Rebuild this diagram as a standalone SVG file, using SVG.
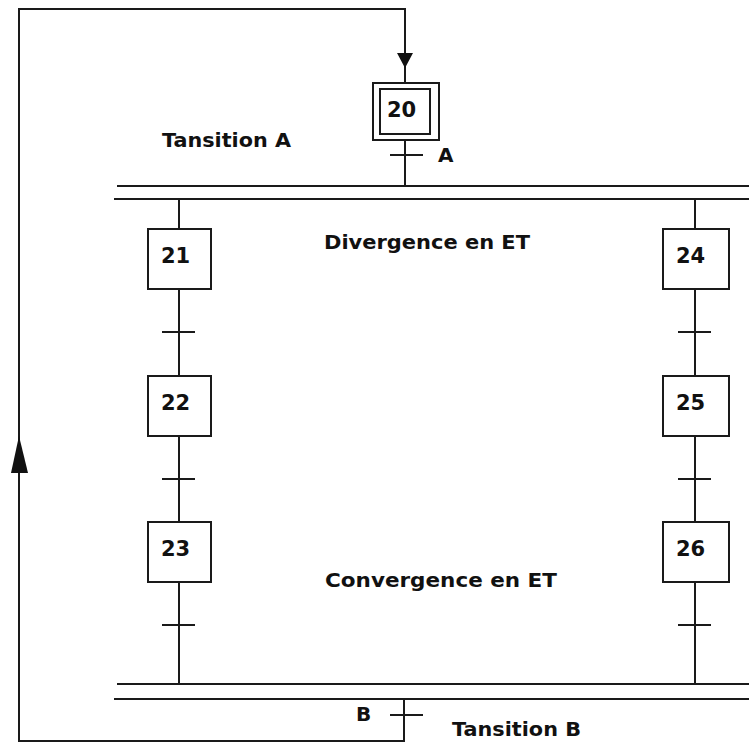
<svg xmlns="http://www.w3.org/2000/svg" width="749" height="742" viewBox="0 0 749 742">
<style>
.ln{stroke:#1a1a1a;stroke-width:2;fill:none}
.box{stroke:#1a1a1a;stroke-width:2;fill:#fff}
.t{font-family:"DejaVu Sans",Verdana,sans-serif;font-weight:bold;font-size:20px;fill:#111}
.n{font-family:"DejaVu Sans",Verdana,sans-serif;font-weight:bold;font-size:21px;fill:#111}
</style>
<rect width="749" height="742" fill="#fff"/>
<g id="connectors">
<polyline class="ln" points="404,699 404,741 19,741 19,9 405,9 405,83"/>
<polygon points="397,53 413,53 405,68" fill="#111"/>
<polygon points="19,436 11,473 28,473" fill="#111"/>
<line class="ln" x1="405" y1="140" x2="405" y2="186"/>
<line class="ln" x1="390" y1="155" x2="423" y2="155"/>
<line class="ln" x1="117" y1="186" x2="749" y2="186"/>
<line class="ln" x1="114" y1="199" x2="749" y2="199"/>
<line class="ln" x1="179" y1="199" x2="179" y2="684"/>
<line class="ln" x1="695" y1="199" x2="695" y2="684"/>
<line class="ln" x1="162" y1="332" x2="195" y2="332"/>
<line class="ln" x1="162" y1="479" x2="195" y2="479"/>
<line class="ln" x1="162" y1="625" x2="195" y2="625"/>
<line class="ln" x1="678" y1="332" x2="711" y2="332"/>
<line class="ln" x1="678" y1="479" x2="711" y2="479"/>
<line class="ln" x1="678" y1="625" x2="711" y2="625"/>
<line class="ln" x1="117" y1="684" x2="749" y2="684"/>
<line class="ln" x1="114" y1="699" x2="749" y2="699"/>
<line class="ln" x1="390" y1="715" x2="423" y2="715"/>
</g>
<g id="step20">
<rect class="box" x="373" y="83" width="66" height="57"/>
<rect class="box" x="380" y="89" width="50" height="45"/>
<text class="n" x="387" y="117">20</text>
</g>
<g id="step21"><rect class="box" x="148" y="229" width="63" height="60"/><text class="n" x="161" y="263">21</text></g>
<g id="step22"><rect class="box" x="148" y="376" width="63" height="60"/><text class="n" x="161" y="410">22</text></g>
<g id="step23"><rect class="box" x="148" y="522" width="63" height="60"/><text class="n" x="161" y="556">23</text></g>
<g id="step24"><rect class="box" x="663" y="229" width="66" height="60"/><text class="n" x="676" y="263">24</text></g>
<g id="step25"><rect class="box" x="663" y="376" width="66" height="60"/><text class="n" x="676" y="410">25</text></g>
<g id="step26"><rect class="box" x="663" y="522" width="66" height="60"/><text class="n" x="676" y="556">26</text></g>
<g id="labels">
<text class="t" x="162" y="147" textLength="129" lengthAdjust="spacingAndGlyphs">Tansition A</text>
<text class="t" x="438" y="162">A</text>
<text class="t" x="324" y="249" textLength="206" lengthAdjust="spacingAndGlyphs">Divergence en ET</text>
<text class="t" x="325" y="587" textLength="232" lengthAdjust="spacingAndGlyphs">Convergence en ET</text>
<text class="t" x="356" y="721">B</text>
<text class="t" x="452" y="736" textLength="129" lengthAdjust="spacingAndGlyphs">Tansition B</text>
</g>
</svg>
